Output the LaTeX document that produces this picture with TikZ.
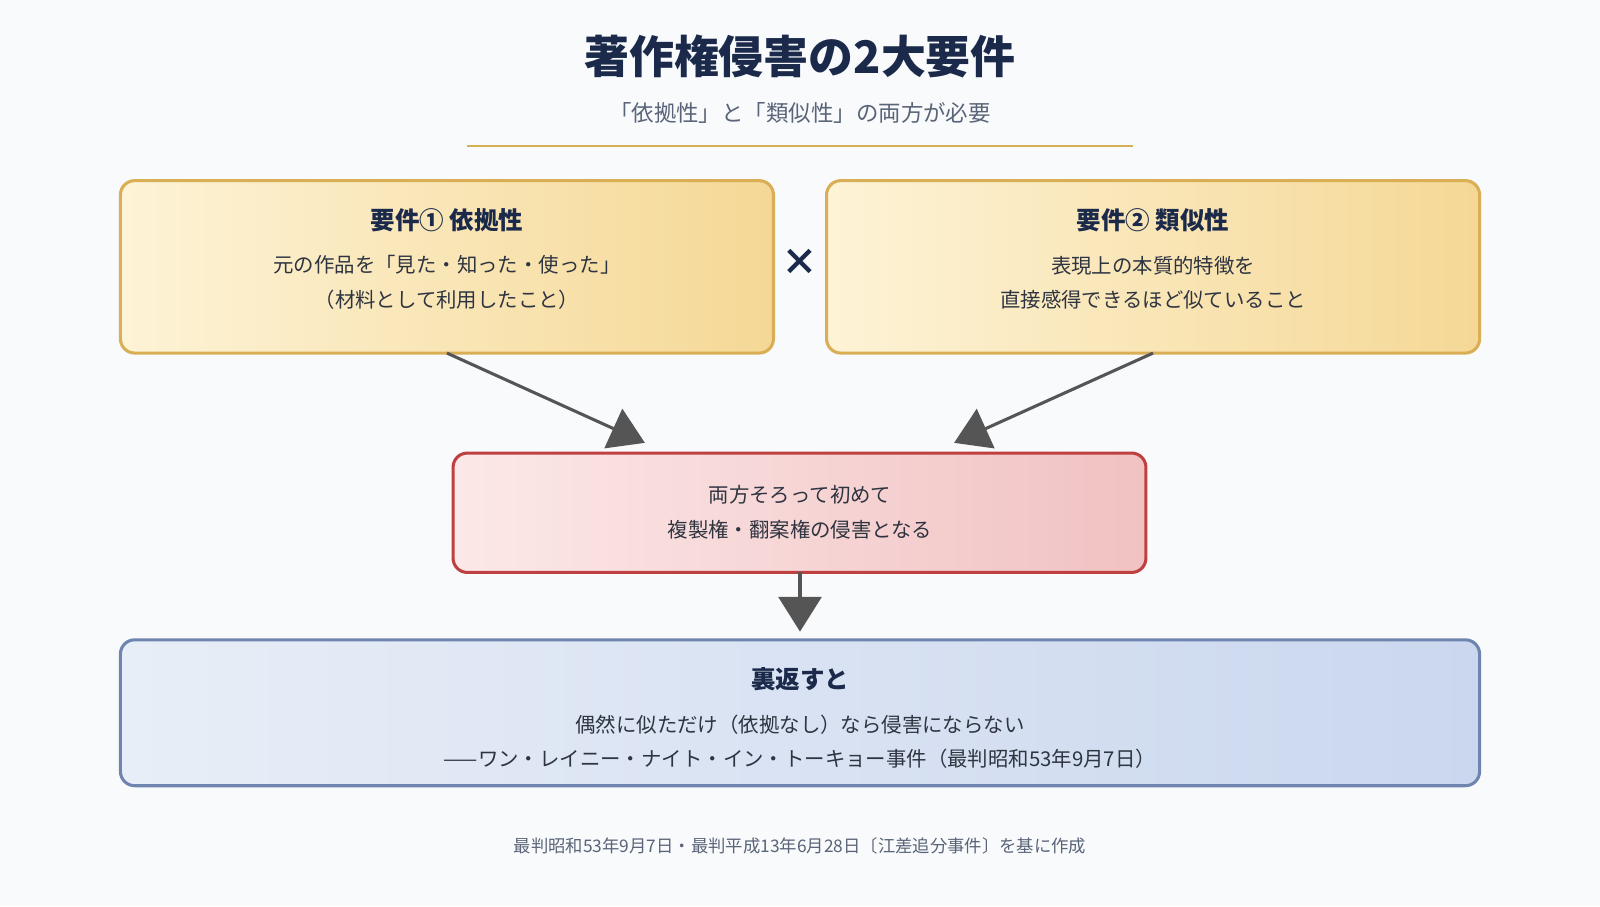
\documentclass[tikz,border=0pt]{standalone}
\usepackage{fontspec}
\setmainfont{Noto Sans CJK JP}
\usetikzlibrary{arrows.meta}
\definecolor{bg}{HTML}{F8FAFC}
\definecolor{navy}{HTML}{1B2A4A}
\definecolor{sub}{HTML}{5A6478}
\definecolor{gold}{HTML}{D4AF55}
\definecolor{ybA}{HTML}{FDF3D6}\definecolor{ybB}{HTML}{F5D896}\definecolor{ybD}{HTML}{D9AE55}
\definecolor{rbA}{HTML}{FCE8E8}\definecolor{rbB}{HTML}{F1C2C2}\definecolor{rbD}{HTML}{BF4040}
\definecolor{bbA}{HTML}{E8EEF7}\definecolor{bbB}{HTML}{CAD7EE}\definecolor{bbD}{HTML}{6E85B0}
\definecolor{txt}{HTML}{2E3440}
\definecolor{arr}{HTML}{555555}
\begin{document}
\begin{tikzpicture}[x=0.5pt,y=-0.5pt,
  box/.style={rounded corners=7pt,line width=1.5pt},
  ybox/.style={box,draw=ybD,left color=ybA,right color=ybB},
  rbox/.style={box,draw=rbD,left color=rbA,right color=rbB},
  bbox/.style={box,draw=bbD,left color=bbA,right color=bbB},
  head/.style={font=\bfseries\fontsize{12}{14}\selectfont,text=navy},
  body/.style={font=\fontsize{10}{17}\selectfont,text=txt,align=center},
  con/.style={draw=arr,line width=1.5pt,-{Triangle[length=17pt,width=21pt]}}]
\useasboundingbox (0,0) rectangle (1568,888);
\fill[bg] (0,0) rectangle (1568,888);
\node[font=\bfseries\fontsize{22}{26}\selectfont,text=navy] (title) at (784,55) {著作権侵害の2大要件};
\node[font=\fontsize{11}{13}\selectfont,text=sub] (subt) at (784,111) {「依拠性」と「類似性」の両方が必要};
\draw[gold,line width=1.2pt] (458,143) -- (1110,143);
\path[ybox] (118,177) rectangle (758,346);
\node (b1) at (438,261.5) {};
\node[head] at (438,216) {要件① 依拠性};
\node[body] at (438,277) {元の作品を「見た・知った・使った」\\（材料として利用したこと）};
\path[ybox] (810,177) rectangle (1450,346);
\node (b2) at (1130,261.5) {};
\node[head] at (1130,216) {要件② 類似性};
\node[body] at (1130,277) {表現上の本質的特徴を\\直接感得できるほど似ていること};
\node[font=\bfseries\fontsize{18}{20}\selectfont,text=navy] (x) at (784,257) {×};
\path[rbox] (444,444) rectangle (1123,561);
\node[body] (r) at (784,502) {両方そろって初めて\\複製権・翻案権の侵害となる};
\path[bbox] (118,627) rectangle (1450,770);
\node[head] (bh) at (784,666) {裏返すと};
\node[body] at (784,727) {偶然に似ただけ（依拠なし）なら侵害にならない\\——ワン・レイニー・ナイト・イン・トーキョー事件（最判昭和53年9月7日）};
\coordinate (s1) at (438,346); \coordinate (e1) at (632,434);
\coordinate (s2) at (1130,346); \coordinate (e2) at (935,434);
\coordinate (s3) at (784,561); \coordinate (e3) at (784,619);
\draw[con] (s1) -- (e1);
\draw[con] (s2) -- (e2);
\draw[con] (s3) -- (e3);
\node[font=\fontsize{8.5}{10}\selectfont,text=sub] (foot) at (784,829) {最判昭和53年9月7日・最判平成13年6月28日〔江差追分事件〕を基に作成};
\end{tikzpicture}
\end{document}
